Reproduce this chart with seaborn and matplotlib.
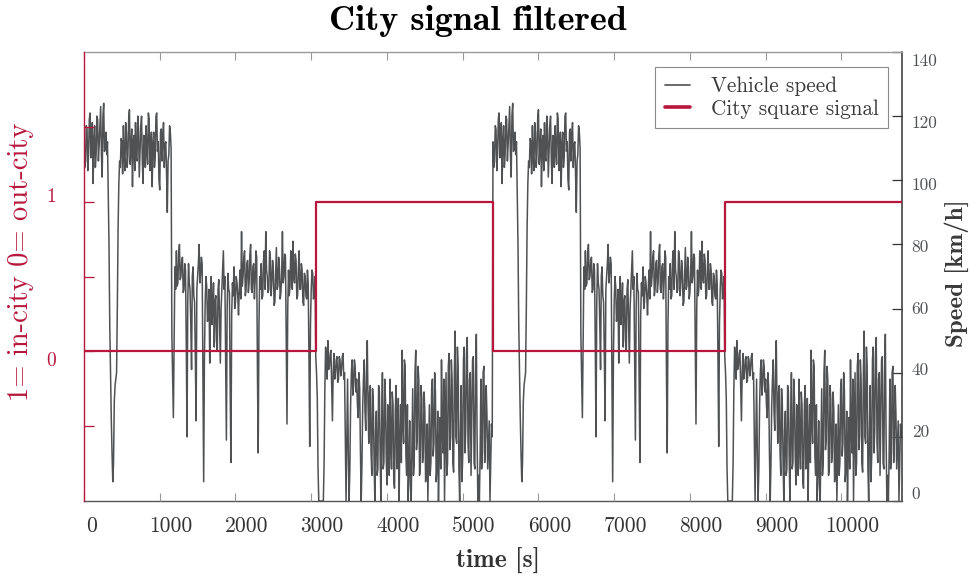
import numpy as np
import pandas as pd
import matplotlib
matplotlib.use("Agg")
import matplotlib.pyplot as plt
import matplotlib.transforms as mtransforms
import seaborn as sns

# Vehicle speed [km/h] over one lap of the route, one value every 10 s
sample_step = 10
lap_speed = [
    # motorway stretch
    112, 104, 106, 117, 116, 103, 108, 119, 121, 107, 110, 118, 99, 112, 117, 104,
    108, 120, 119, 106, 111, 117, 123, 108, 101, 120, 124, 109, 110, 115, 108, 112,
    # stop
    95, 80, 55, 40, 26, 15, 6, 12, 31, 36, 38, 40, 60, 85, 99, 106,
    # motorway stretch
    104, 113, 112, 102, 117, 108, 103, 118, 115, 104, 108, 119, 122, 105, 110, 116,
    98, 112, 114, 103, 118, 107, 106, 120, 116, 101, 109, 117, 120, 106, 99, 114,
    113, 104, 117, 109, 105, 121, 119, 103, 110, 115, 98, 111, 115, 104, 107, 120,
    121, 109, 112, 100, 97, 115, 116, 106, 114, 118, 104, 111, 112, 102, 90, 106,
    108, 117, 115, 110, 52, 38, 26, 50,
    # extra-urban roads
    73, 66, 78, 67, 68, 77, 80, 69, 70, 75, 76, 65, 66, 74, 72, 50,
    20, 62, 74, 68, 66, 55, 41, 70, 73, 64, 62, 45, 25, 66, 70, 74,
    80, 68, 71, 76, 74, 40, 6, 45, 62, 70, 67, 56, 58, 66, 43, 64,
    70, 55, 60, 68, 48, 62, 64, 50, 47, 66, 69, 56, 43, 60, 66, 72,
    78, 66, 70, 45, 19, 60, 71, 66, 65, 35, 12, 58, 68, 64, 73, 60,
    62, 70, 68, 64, 58, 66, 72, 63, 84, 67, 70, 76, 78, 64, 66, 74,
    75, 65, 68, 77, 80, 66, 65, 73, 74, 63, 69, 78, 76, 40, 15, 55,
    70, 66, 74, 63, 64, 75, 78, 66, 84, 72, 70, 65, 66, 78, 76, 64,
    68, 75, 72, 61, 62, 70, 79, 66, 67, 76, 73, 63, 65, 71, 84, 68,
    70, 77, 76, 50, 24, 60, 72, 64, 67, 78, 76, 66, 81, 70, 68, 77,
    75, 63, 64, 72, 78, 66, 66, 74, 72, 62, 61, 71, 70, 64, 63, 72,
    68, 45, 17, 55, 66, 72, 71, 63, 65, 70,
    # city traffic
    45, 40, 32, 10, 0, 0, 0, 0, 0, 0, 0, 12, 35, 48, 44, 38,
    50, 41, 42, 46, 47, 36, 25, 40, 46, 38, 40, 44, 45, 37, 38, 45,
    44, 39, 41, 45, 46, 38, 40, 20, 0, 20, 38, 15, 0, 10, 30, 40,
    44, 33, 36, 44, 42, 34, 38, 30, 26, 40, 35, 15, 0, 12, 30, 38,
    44, 28, 22, 40, 50, 30, 18, 34, 36, 15, 8, 35, 30, 12, 0, 22,
    28, 8, 10, 36, 34, 14, 0, 25, 40, 10, 12, 38, 32, 14, 5, 30,
    26, 8, 38, 18, 10, 34, 30, 6, 4, 28, 36, 10, 15, 32, 0, 18,
    30, 12, 47, 24, 18, 44, 42, 14, 8, 30, 0, 10, 25, 5, 0, 18,
    35, 8, 12, 40, 47, 16, 20, 42, 38, 8, 10, 36, 32, 12, 15, 34,
    28, 6, 9, 24, 0, 14, 30, 8, 12, 35, 38, 14, 18, 40, 34, 6,
    10, 28, 0, 15, 26, 10, 44, 22, 15, 38, 0, 20, 40, 8, 12, 42,
    46, 16, 20, 44, 38, 12, 9, 40, 53, 20, 18, 48, 42, 10, 0, 22,
    36, 6, 14, 44, 48, 15, 22, 46, 51, 18, 12, 38, 40, 8, 25, 44,
    45, 12, 10, 40, 52, 20, 0, 8, 0, 14, 38, 10, 15, 40, 42, 12,
    20, 36, 27, 10, 18, 25, 0, 12, 24, 20,
]
# The same lap was driven twice back to back
speed = lap_speed + lap_speed
time_s = [i * sample_step for i in range(len(speed))]

# City detector output (steps): 1 = in city, 0 = out of city
signal_time = [0, 3060, 5400, 8460, 10800]
signal_value = [0, 1, 0, 1, 1]

x_ticks = [0, 1000, 2000, 3000, 4000, 5000, 6000, 7000, 8000, 9000, 10000]
speed_ticks = [0, 20, 40, 60, 80, 100, 120, 140]
signal_ticks = [0, 1]
signal_minor_ticks = [-0.5, 0.5, 1.5]

speed_df = pd.DataFrame({"time": time_s, "speed": speed})
signal_df = pd.DataFrame({"time": signal_time, "signal": signal_value})

sns.set_theme(style="white")
plt.rcParams["font.family"] = ["cmr10", "DejaVu Serif"]
plt.rcParams["axes.formatter.use_mathtext"] = True
plt.rcParams["mathtext.fontset"] = "cm"

RED = "#b8163c"
GRAY = "#4f5153"
DARK = "#333333"

W, H = 977, 584
fig = plt.figure(figsize=(W / 100, H / 100), dpi=100)
ax_sig = fig.add_axes([84 / W, 83 / H, 818 / W, 449 / H])
ax_spd = ax_sig.twinx()

sns.lineplot(data=speed_df, x="time", y="speed", ax=ax_spd, color=GRAY,
             linewidth=1.1, estimator=None, label="Vehicle speed", legend=False)
sns.lineplot(data=signal_df, x="time", y="signal", ax=ax_sig, color=RED,
             linewidth=1.6, estimator=None, drawstyle="steps-post",
             label="City square signal", legend=False)

# signal axis on top of the speed trace
ax_sig.set_zorder(ax_spd.get_zorder() + 1)
ax_sig.patch.set_visible(False)

ax_sig.set_xlim(0, 10800)
ax_sig.set_ylim(-1, 2)
ax_spd.set_ylim(0, 140)

# x axis
ax_sig.set_xticks(x_ticks)
ax_sig.set_xticklabels([str(v) for v in x_ticks])
ax_sig.tick_params(axis="x", which="both", direction="in", length=6, width=0.8,
                   color="#9a9a9a", top=True, bottom=True, labelsize=15.5,
                   labelcolor=DARK, pad=11)

# left (signal) axis
ax_sig.set_yticks(signal_ticks)
ax_sig.set_yticklabels([str(v) for v in signal_ticks])
ax_sig.set_yticks(signal_minor_ticks, minor=True)
ax_sig.tick_params(axis="y", which="both", direction="in", length=7, width=0.9,
                   color=RED, left=True, right=False, labelsize=14,
                   labelcolor=RED, pad=20)

# right (speed) axis
ax_spd.set_yticks(speed_ticks)
ax_spd.set_yticklabels([str(v) for v in speed_ticks])
ax_spd.tick_params(axis="y", direction="in", length=7, width=0.9, color=DARK,
                   right=True, left=False, labelsize=12.5, labelcolor=GRAY, pad=7)

for name, sp in ax_sig.spines.items():
    sp.set_visible(name == "left")
ax_sig.spines["left"].set_color(RED)
ax_sig.spines["left"].set_linewidth(1.0)
ax_spd.spines["left"].set_visible(False)
ax_spd.spines["right"].set_color(DARK)
ax_spd.spines["right"].set_linewidth(1.1)
ax_spd.spines["top"].set_color("#9a9a9a")
ax_spd.spines["bottom"].set_color("#555555")
for sp in ("top", "bottom"):
    ax_spd.spines[sp].set_linewidth(1.0)

# tick label placement
def shift(label, dx_px, dy_px):
    label.set_transform(label.get_transform() +
                        mtransforms.ScaledTranslation(dx_px / 100, dy_px / 100,
                                                      fig.dpi_scale_trans))

for lab, v in zip(ax_sig.get_xticklabels(), x_ticks):
    shift(lab, 8 if v == 0 else 11, 0)
for lab, v in zip(ax_sig.get_yticklabels(), signal_ticks):
    shift(lab, 0, 7 if v == 1 else -8)
for lab, v in zip(ax_spd.get_yticklabels(), speed_ticks):
    shift(lab, 0, -(v - 70) / 70 * 8)

# axis titles
ax_sig.set_xlabel("")
ax_sig.set_ylabel("")
ax_spd.set_ylabel("")
fig.text(498 / W, 1 - 561 / H, "time [s]", family="cmb10", fontsize=18.5,
         color=DARK, ha="center", va="center")
fig.text(21 / W, 1 - 262 / H, "1= in-city 0= out-city", fontsize=20.5,
         color=RED, rotation=90, ha="center", va="center")
fig.text(957 / W, 1 - 273 / H, "Speed [km/h]", family="cmb10", fontsize=18,
         color="#3a3a3a", rotation=90, ha="center", va="center")
fig.text(478 / W, 1 - 21 / H, "City signal filtered", family="cmb10",
         fontsize=26, color="black", ha="center", va="center")

# legend
h1, l1 = ax_spd.get_legend_handles_labels()
h2, l2 = ax_sig.get_legend_handles_labels()
leg = ax_sig.legend(h1 + h2, l1 + l2, loc="upper right",
                    bbox_to_anchor=(888 / W, 1 - 67 / H),
                    bbox_transform=fig.transFigure, borderaxespad=0,
                    frameon=True, fancybox=False, framealpha=1,
                    edgecolor="#8a8a8a", fontsize=15.3, handlelength=1.2,
                    handletextpad=0.95, labelspacing=0.15, borderpad=0.45)
leg.get_frame().set_linewidth(0.8)
for txt in leg.get_texts():
    txt.set_color("#3a3a3a")
leg_lines = leg.get_lines()
leg_lines[0].set_linewidth(1.2)
leg_lines[1].set_linewidth(2.6)

fig.savefig("out.png", dpi=100, facecolor="white")
